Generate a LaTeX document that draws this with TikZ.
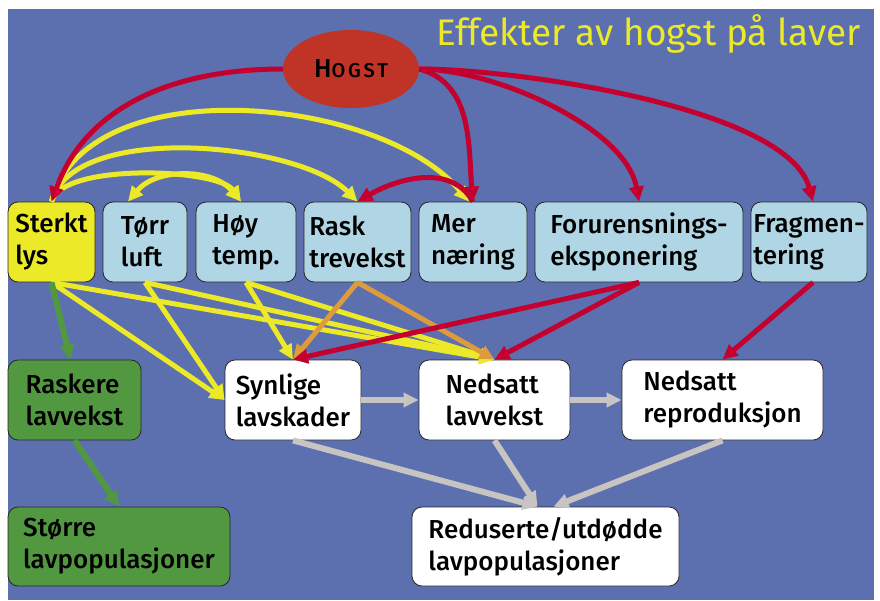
\documentclass[tikz,border=0pt]{standalone}
\usepackage{fontspec}
\setmainfont{Fira Sans Medium}
\newfontfamily\tittelfont{Fira Sans}
\usetikzlibrary{arrows.meta,shapes.geometric}

\definecolor{bakgrunn}{RGB}{92,112,175}
\definecolor{hogstrod}{RGB}{192,52,40}
\definecolor{pilrod}{RGB}{196,0,46}
\definecolor{gul}{RGB}{236,234,40}
\definecolor{lyseblaa}{RGB}{176,213,228}
\definecolor{groenn}{RGB}{82,152,64}
\definecolor{graa}{RGB}{200,196,193}
\definecolor{oransje}{RGB}{222,155,58}

\begin{document}
\begin{tikzpicture}[
    x=1pt, y=1pt,
    font=\fontsize{26}{32}\selectfont,
    boks/.style={
        rectangle,
        rounded corners=10pt,
        draw=black!85,
        line width=0.8pt,
        minimum height=80pt,
        inner xsep=2pt,
        align=left
    },
    faktor/.style={boks, fill=lyseblaa},
    effekt/.style={boks, fill=white},
    positiv/.style={boks, fill=groenn},
    pil/.style={
        -{Triangle[length=15pt,width=14pt]},
        line width=5pt
    },
    dobbelpil/.style={
        {Triangle[length=15pt,width=14pt]}-{Triangle[length=15pt,width=14pt]},
        line width=5pt
    }
]

\useasboundingbox (0,0) rectangle (880,-600);
\fill[bakgrunn] (8,-9) rectangle (874,-600);

% Tittel
\node[anchor=base east, font=\tittelfont\fontsize{37}{40}\selectfont, text=gul] (tittel) at (864,-45) {Effekter av hogst på laver};

% Hogst
\node[ellipse, fill=hogstrod, minimum width=136pt, minimum height=78pt, inner sep=0pt] (hogst) at (351,-69)
    {\addfontfeature{LetterSpace=14}H{\fontsize{20}{22}\selectfont OGST}};

% Faktorer - oeverste rad
\node[boks, fill=gul, minimum width=87pt] (sterkt) at (51.5,-242) {Sterkt\\lys};
\node[faktor, minimum width=84pt] (torr) at (145,-242) {Tørr\\luft};
\node[faktor, minimum width=100pt] (hoy) at (246,-242) {Høy\\temp.};
\node[faktor, minimum width=107pt] (rask) at (357.5,-242) {Rask\\trevekst};
\node[faktor, minimum width=108pt] (mer) at (473,-242) {Mer\\næring};
\node[faktor, minimum width=208pt] (forur) at (639,-242) {Forurensnings-\\eksponering};
\node[faktor, minimum width=116pt] (fragm) at (809,-242) {Fragmen-\\tering};

% Effekter
\node[positiv, minimum width=133pt] (raskere) at (74.5,-400) {Raskere\\lavvekst};
\node[positiv, minimum width=222pt, minimum height=79pt] (storre) at (119,-546.5) {Større\\lavpopulasjoner};
\node[effekt, minimum width=136pt] (synlige) at (293,-400) {Synlige\\lavskader};
\node[effekt, minimum width=151pt] (nedvekst) at (494.5,-400) {Nedsatt\\lavvekst};
\node[effekt, minimum width=201pt] (nedrepr) at (722.5,-400) {Nedsatt\\reproduksjon};
\node[effekt, minimum width=267pt, minimum height=79pt] (redus) at (545.5,-546.5) {Reduserte/utdødde\\lavpopulasjoner};

% Gule piler
\draw[pil, gul] (sterkt.north) to[out=75, in=125, looseness=0.55] ([xshift=-5pt]hoy.north);
\draw[pil, gul] (sterkt.north) to[out=75, in=135, looseness=0.7] (rask.north);
\draw[pil, gul] (sterkt.north) to[out=75, in=130, looseness=0.85] ([xshift=-4pt]mer.north);
\draw[dobbelpil, gul] ([xshift=-17pt]torr.north) to[out=50, in=130] ([xshift=-5pt]hoy.north);
\draw[pil, gul] (sterkt.south) -- (synlige.west);
\draw[pil, gul] (torr.south) -- (synlige.west);
\draw[pil, gul] (hoy.south) -- (synlige.north);
\draw[pil, gul] (sterkt.south) -- (nedvekst.north);
\draw[pil, gul] (torr.south) -- (nedvekst.north);
\draw[pil, gul] (hoy.south) -- (nedvekst.north);

% Oransje piler
\draw[pil, oransje] (rask.south) -- (synlige.north);
\draw[pil, oransje] (rask.south) -- (nedvekst.north);

% Roede piler
\draw[pil, pilrod] (hogst.west) to[out=180, in=70] (sterkt.north);
\draw[pil, pilrod] (hogst.east) to[out=-15, in=95] (mer.north);
\draw[pil, pilrod] (hogst.east) to[out=0, in=100, looseness=0.75] (forur.north);
\draw[pil, pilrod] (hogst.east) to[out=0, in=105, looseness=0.6] ([xshift=4pt]fragm.north);
\draw[pil, pilrod] (mer.north) to[out=120, in=30] (rask.north);
\draw[pil, pilrod] (forur.south) -- (synlige.north);
\draw[pil, pilrod] (forur.south) -- (nedvekst.north);
\draw[pil, pilrod] ([xshift=4pt]fragm.south) -- (nedrepr.north);

% Groenne piler
\draw[pil, groenn, line width=6pt] (sterkt.south) -- ([xshift=-4pt]raskere.north);
\draw[pil, groenn, line width=6pt] (raskere.south) -- (storre.north);

% Graa piler
\draw[pil, graa, line width=6pt] (synlige.east) -- (nedvekst.west);
\draw[pil, graa, line width=6pt] (nedvekst.east) -- (nedrepr.west);
\draw[pil, graa, line width=6pt] (synlige.south) -- ([xshift=-8pt]redus.north);
\draw[pil, graa, line width=6pt] (nedvekst.south) -- ([xshift=-8pt]redus.north);
\draw[pil, graa, line width=6pt] (nedrepr.south) -- ([xshift=8pt]redus.north);

\end{tikzpicture}
\end{document}
